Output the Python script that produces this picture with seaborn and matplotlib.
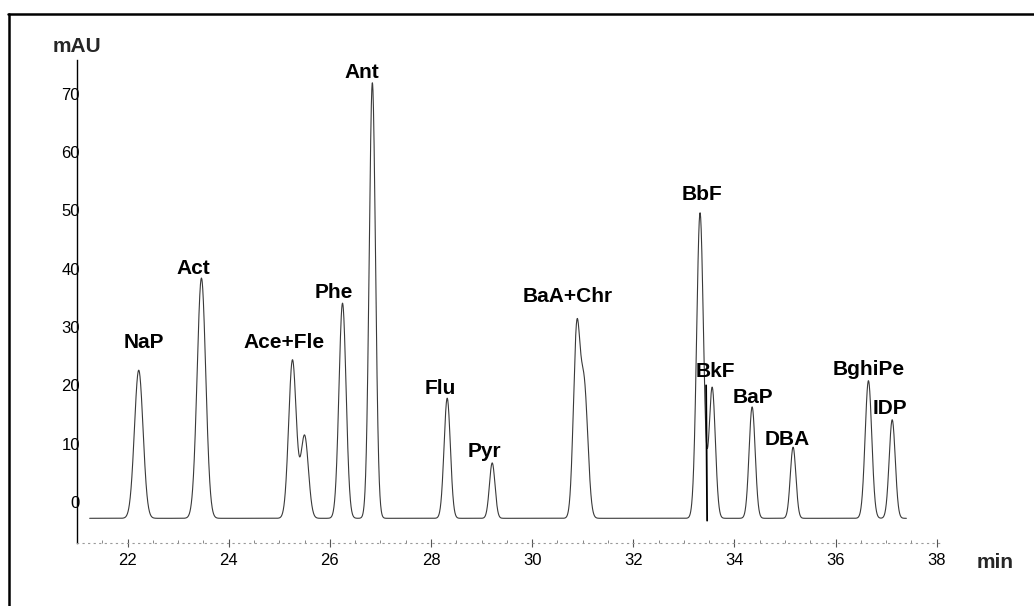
import numpy as np
import pandas as pd
import matplotlib
matplotlib.use("Agg")
import matplotlib.pyplot as plt
import seaborn as sns
from matplotlib.lines import Line2D
from matplotlib.ticker import MultipleLocator

# ---------------- data ----------------
# individual peaks: retention time (min), apex signal (mAU), peak width sigma (min)
peak_rt = [22.22, 23.46, 25.26, 25.50, 26.25, 26.84, 28.32, 29.21,
           30.88, 31.03, 33.32, 33.56, 34.35, 35.16, 36.65, 37.12]
peak_apex = [22.6, 38.4, 24.4, 11.5, 34.1, 71.9, 17.8, 6.7,
             31.0, 21.5, 49.6, 19.7, 16.3, 9.4, 20.8, 14.1]
peak_sigma = [0.085, 0.085, 0.075, 0.075, 0.070, 0.062, 0.062, 0.055,
              0.065, 0.072, 0.067, 0.062, 0.060, 0.055, 0.065, 0.060]
baseline_mau = -2.8
trace_start, trace_end = 21.25, 37.40

# integration drop line under BbF/BkF
drop_line_t = [33.44, 33.46]
drop_line_mau = [20.0, -3.2]

# compound labels
label_text = ["NaP", "Act", "Ace+Fle", "Phe", "Ant", "Flu", "Pyr", "BaA+Chr",
              "BbF", "BkF", "BaP", "DBA", "BghiPe", "IDP"]
label_rt = [22.32, 23.30, 25.10, 26.07, 26.64, 28.19, 29.06, 30.70,
            33.36, 33.62, 34.37, 35.04, 36.65, 37.08]
label_mau = [27.3, 40.1, 27.4, 36.0, 73.6, 19.4, 8.7, 35.3,
             52.8, 22.3, 18.0, 10.8, 22.8, 16.0]

x_ticks = [22, 24, 26, 28, 30, 32, 34, 36, 38]
y_ticks = [0, 10, 20, 30, 40, 50, 60, 70]

# ---------------- build the trace from the peak table ----------------
rt = np.array(peak_rt)
sg = np.array(peak_sigma)
h = np.array(peak_apex) - baseline_mau
M = np.exp(-(rt[:, None] - rt[None, :]) ** 2 / (2 * sg[None, :] ** 2))
amp = np.linalg.solve(M, h)

t = np.linspace(trace_start, trace_end, 5000)
signal = baseline_mau + (amp[None, :] *
                         np.exp(-(t[:, None] - rt[None, :]) ** 2 / (2 * sg[None, :] ** 2))).sum(axis=1)
df = pd.DataFrame({"t": t, "mau": signal})

# ---------------- plotting ----------------
sns.set_style("white")
plt.rcParams["font.family"] = ["Liberation Sans", "DejaVu Sans"]

fig = plt.figure(figsize=(10.34, 6.06), dpi=100)
ax = fig.add_axes([0.0745, 0.1043, 0.8363, 0.7967])

sns.lineplot(data=df, x="t", y="mau", ax=ax, color="#3a3a3a", linewidth=0.8,
             estimator=None)
ax.plot(drop_line_t, drop_line_mau, color="black", linewidth=1.3)

ax.set_xlim(21.0, 38.1)
ax.set_ylim(-7.0, 75.8)
ax.set_xticks(x_ticks)
ax.set_yticks(y_ticks)
ax.xaxis.set_minor_locator(MultipleLocator(0.5))
ax.set_xlabel("")
ax.set_ylabel("")

for s in ["top", "right"]:
    ax.spines[s].set_visible(False)
ax.spines["left"].set_color("black")
ax.spines["left"].set_linewidth(1.0)
ax.spines["bottom"].set_color("#9a9a9a")
ax.spines["bottom"].set_linewidth(0.8)
ax.spines["bottom"].set_linestyle((0, (1, 4)))

ax.tick_params(axis="x", which="major", direction="inout", length=6, width=0.8,
               color="#555555", labelsize=12, labelcolor="black", pad=4, bottom=True)
ax.tick_params(axis="x", which="minor", direction="in", length=2.5, width=0.7,
               color="#888888", bottom=True)
ax.tick_params(axis="y", which="both", length=0, labelsize=12,
               labelcolor="black", pad=-2.2)
for lab in ax.get_yticklabels():
    lab.set_zorder(5)

for txt, x, y in zip(label_text, label_rt, label_mau):
    ax.text(x, y, txt, ha="center", va="center", fontsize=15,
            fontweight="bold", color="black")

fig.text(77 / 1034, 1 - 46 / 606, "mAU", ha="center", va="center",
         fontsize=15, fontweight="bold")
fig.text(995 / 1034, 1 - 563 / 606, "min", ha="center", va="center",
         fontsize=15, fontweight="bold")

# outer frame of the scanned figure (top and left edges)
fig.add_artist(Line2D([8 / 1034, 1.0], [1 - 13.5 / 606, 1 - 13.5 / 606],
                      transform=fig.transFigure, color="black", linewidth=1.8))
fig.add_artist(Line2D([8.5 / 1034, 8.5 / 1034], [0.0, 1 - 13.5 / 606],
                      transform=fig.transFigure, color="black", linewidth=1.8))

fig.savefig("out.png", dpi=100)
